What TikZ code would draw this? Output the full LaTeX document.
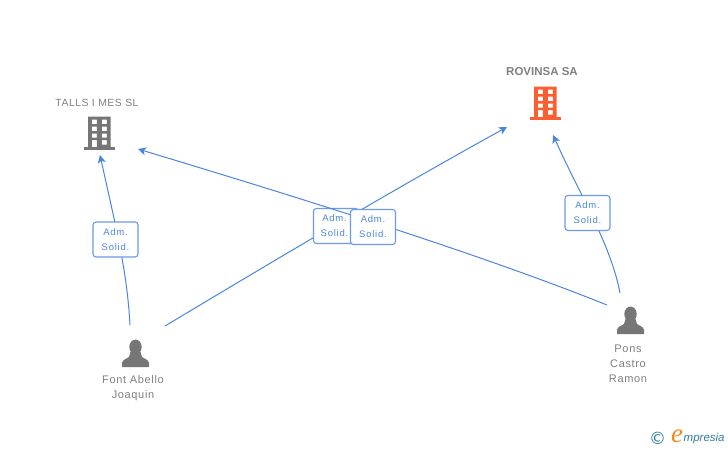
\documentclass[tikz,border=0pt]{standalone}
\usepackage{fontspec}
\setmainfont{Liberation Sans}
\newfontfamily\logofont[Ligatures=TeX]{Liberation Serif}
\newfontfamily\copyfont{DejaVu Sans}
\usetikzlibrary{arrows.meta}
\definecolor{linkblue}{HTML}{4A86E0}
\definecolor{boxblue}{HTML}{6A9BE4}
\definecolor{iconcolor}{HTML}{767676}
\definecolor{textgray}{HTML}{808080}
\definecolor{hotorange}{HTML}{FB5F31}
\definecolor{logoteal}{HTML}{2F7F9B}
\definecolor{logoorange}{HTML}{F08A1D}
\tikzset{
  building/.pic={
    \fill[pic actions,even odd rule] (-11.3,0) rectangle (11.3,-31)
      (-7.5,-23.5) rectangle (-2.5,-28) (2.5,-23.5) rectangle (7.5,-28)
      (-7.5,-16.5) rectangle (-2.5,-21) (2.5,-16.5) rectangle (7.5,-21)
      (-7.5,-10) rectangle (-2.5,-14) (2.5,-10) rectangle (7.5,-14)
      (-7.5,0) rectangle (-2.5,-7.5) (2.5,-3) rectangle (7.5,-7.5);
    \fill[pic actions] (-15.7,-0.2) rectangle (15.7,2.5);
  },
  person/.pic={
    \fill[pic actions] (0,20) ellipse (6.2 and 7.5);
    \fill[pic actions] (-13.5,0) -- (-13.5,4) .. controls (-13,7.5) and (-9,8) .. (-6.5,10)
      -- (-5,15) -- (5,15) -- (6.5,10) .. controls (9,8) and (13,7.5) .. (13.5,4) -- (13.5,0) -- cycle;
  },
}
\begin{document}
\begin{tikzpicture}[x=1pt,y=-1pt,
    link/.style={draw=linkblue,line width=1pt},
    arrowlink/.style={link,-{Stealth[length=8pt,width=8pt,inset=2pt]}},
    rolebox/.style={draw=boxblue,line width=1.1pt,fill=white,rounded corners=3pt,
      minimum width=45pt,minimum height=35pt,inner sep=0pt,align=center,
      text=linkblue,font=\fontsize{9.5}{15}\selectfont\addfontfeature{LetterSpace=8}},
    caption/.style={text=textgray,align=center,inner sep=0pt,
      font=\fontsize{11}{15}\selectfont\addfontfeature{LetterSpace=6}}]
  \useasboundingbox (0,0) rectangle (728,450);
  \fill[white] (0,0) rectangle (728,450);

  % companies
  \node[caption,font=\fontsize{10.4}{15}\selectfont\addfontfeature{LetterSpace=5}] (tallsname) at (97,102.5) {TALLS I MES SL};
  \node[caption,font=\fontsize{11.5}{15}\selectfont\bfseries] (rovinsaname) at (542,72) {ROVINSA SA};
  \pic[fill=iconcolor] at (99.4,147.5) {building};
  \pic[fill=hotorange] at (545.4,117.5) {building};

  % people
  \pic[fill=iconcolor,yscale=-1] at (135.5,367) {person};
  \pic[fill=iconcolor,yscale=-1] at (630.5,334) {person};
  \node[caption] (fontname) at (133,388.5) {Font Abello\\Joaquin};
  \node[caption] (ponsname) at (628,364) {Pons\\Castro\\Ramon};

  % link ends
  \coordinate (fontup) at (130,325);
  \coordinate (fontright) at (165,326);
  \coordinate (ponsleft) at (607,305);
  \coordinate (ponsup) at (620,293);
  \coordinate (tallsbottom) at (100,155);
  \coordinate (tallsright) at (138,149);
  \coordinate (rovinsaleft) at (507,127);
  \coordinate (rovinsabottom) at (553,135);

  \draw[arrowlink] (fontup) .. controls (127,270) and (116,228) .. (tallsbottom);
  \draw[arrowlink] (fontright) .. controls (280,257) and (393,190) .. (rovinsaleft);
  \draw[arrowlink] (ponsup) .. controls (611,245) and (580,195) .. (rovinsabottom);
  \node[rolebox] (adm1) at (115.5,239.5) {Adm.\\Solid.};
  \node[rolebox] (adm2) at (336,226) {\hspace*{-3pt}Adm.\\\hspace*{-3pt}Solid.};
  \node[rolebox] (adm4) at (587.5,213) {Adm.\\Solid.};
  \draw[arrowlink] (ponsleft) .. controls (470,250) and (280,192) .. (tallsright);
  \node[rolebox] (adm3) at (373,227) {Adm.\\Solid.};

  % logo
  \node[text=logoteal,inner sep=0pt,font=\copyfont\fontsize{17}{17}\selectfont] (copy) at (657.5,438.5) {©};
  \node[text=logoorange,inner sep=0pt,font=\logofont\itshape\fontsize{27}{27}\selectfont] (logoe) at (677,436) {e};
  \node[text=logoteal,inner sep=0pt,anchor=west,font=\itshape\fontsize{11.5}{13}\selectfont] (logotext) at (683.5,439) {mpresia};
\end{tikzpicture}
\end{document}
